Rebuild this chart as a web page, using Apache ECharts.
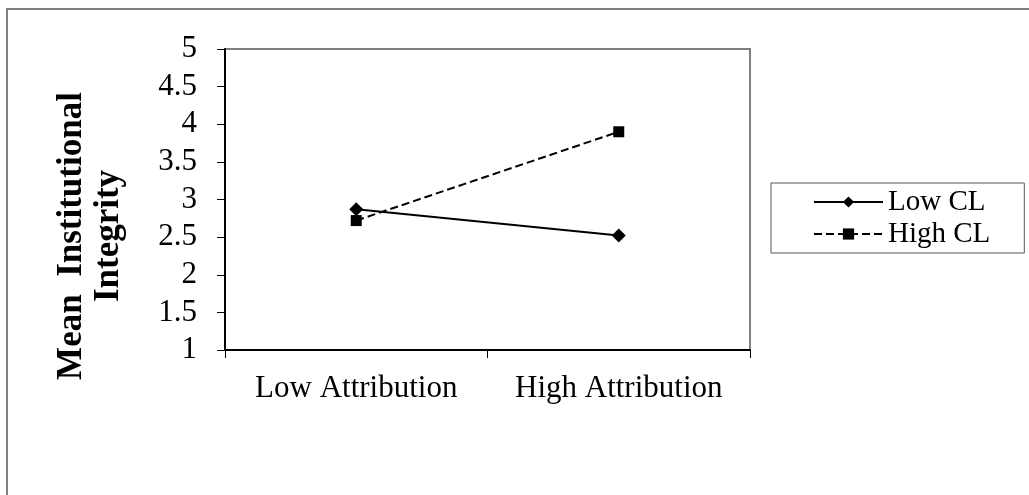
<!DOCTYPE html>
<html>
<head>
<meta charset="utf-8">
<script src="https://cdn.jsdelivr.net/npm/echarts@6/dist/echarts.min.js"></script>
<style>
  html, body { margin: 0; padding: 0; background: #fff; }
  #chart { width: 1029px; height: 495px; }
</style>
</head>
<body>
<div id="chart"></div>
<script>
const categories = ['Low Attribution', 'High Attribution'];
const lowCL = [2.87, 2.52];
const highCL = [2.72, 3.9];
const seriesNames = ['Low CL', 'High CL'];
const yTitle = 'Mean  Institutional\nIntegrity';

const font = 'Liberation Serif';
let chart = echarts.init(document.getElementById('chart'));

let option = {
  animation: false,
  backgroundColor: '#fff',
  grid: {
    left: 225,
    right: 279,
    top: 49,
    bottom: 145,
    show: true,
    borderColor: '#808080',
    borderWidth: 2
  },
  legend: {
    orient: 'vertical',
    left: 771,
    top: 183,
    padding: [4, 34, 4, 42],
    itemGap: 2,
    itemWidth: 69,
    itemHeight: 14,
    borderColor: '#555',
    borderWidth: 1,
    selectedMode: false,
    data: seriesNames,
    textStyle: { fontFamily: font, fontSize: 29, color: '#000', lineHeight: 30 }
  },
  xAxis: {
    type: 'category',
    data: categories,
    boundaryGap: true,
    axisLine: { lineStyle: { color: '#000', width: 2 } },
    axisTick: { show: true, interval: 0, length: 8, lineStyle: { color: '#000' } },
    axisLabel: { interval: 0, hideOverlap: false, fontFamily: font, fontSize: 31, color: '#000', margin: 23 },
    splitLine: { show: false }
  },
  yAxis: {
    type: 'value',
    min: 1,
    max: 5,
    interval: 0.5,
    axisLine: { show: true, lineStyle: { color: '#000', width: 2 } },
    axisTick: { show: true, length: 8, lineStyle: { color: '#000' } },
    axisLabel: { fontFamily: font, fontSize: 31, color: '#000', margin: 28 },
    splitLine: { show: false }
  },
  graphic: [
    {
      type: 'rect',
      silent: true,
      shape: { x: 7, y: 9, width: 1200, height: 700 },
      style: { fill: 'none', stroke: '#808080', lineWidth: 2 }
    },
    {
      type: 'text',
      x: 90,
      y: 236,
      rotation: Math.PI / 2,
      style: {
        text: yTitle,
        fontFamily: font,
        fontWeight: 'bold',
        fontSize: 35,
        lineHeight: 37,
        fill: '#000',
        textAlign: 'center',
        textVerticalAlign: 'middle'
      }
    }
  ],
  series: [
    {
      name: seriesNames[0],
      type: 'line',
      data: lowCL,
      symbol: 'diamond',
      symbolSize: 14,
      z: 3,
      itemStyle: { color: '#000' },
      lineStyle: { color: '#000', width: 2, type: 'solid' }
    },
    {
      name: seriesNames[1],
      type: 'line',
      data: highCL,
      symbol: 'rect',
      symbolSize: 11,
      z: 2,
      itemStyle: { color: '#000' },
      lineStyle: { color: '#000', width: 2, type: [8, 4] }
    }
  ]
};

chart.setOption(option);
window.addEventListener('resize', () => chart.resize(), false);
</script>
</body>
</html>
